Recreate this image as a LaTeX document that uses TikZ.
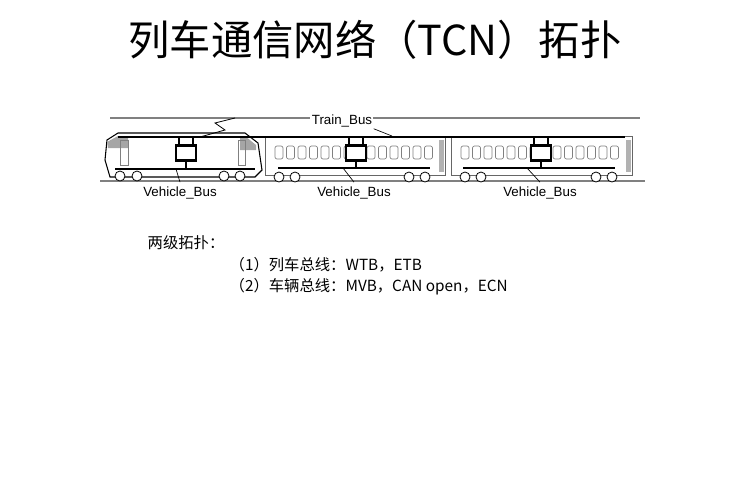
\documentclass[tikz,border=0pt]{standalone}
\usepackage{fontspec}
\setmainfont{Liberation Sans}
\newfontfamily\cjk{Noto Sans CJK SC}
\begin{document}
\begin{tikzpicture}[x=0.75pt,y=-0.75pt,
  ecu/.style={draw,line width=1.8pt,fill=white},
  bus/.style={line width=1.6pt},
  thin/.style={draw=gray,line width=0.5pt},
  win/.style={draw=gray,rounded corners=1.5pt,line width=0.5pt},
  lbl/.style={font=\fontsize{10}{11}\selectfont},
  wheel/.style={draw,line width=0.6pt,fill=white}]
\useasboundingbox (0,0) rectangle (751,500);
\node (title) at (375,40) {\cjk\fontsize{31}{34}\selectfont 列车通信网络（TCN）拓扑};
% overhead line
\draw[line width=1pt,gray] (110,118) -- (310,118);
\draw[line width=1pt,gray] (373,118) -- (640,118);
% pantograph
\draw[line width=0.6pt] (200,137) -- (225,130) -- (215,123) -- (235,118);
% rails
\draw[line width=1.2pt,gray] (100,181) -- (645,181);
% locomotive
\draw[line width=0.8pt] (110,177) -- (105,160) -- (107,140) -- (118,133) -- (245,133) -- (258,143) -- (262,170) -- (255,177) -- cycle;
\fill[gray!70] (107,142) -- (118,136) -- (128,136) -- (128,148) -- (108,148) -- cycle;
\fill[gray!70] (245,136) -- (256,145) -- (256,150) -- (240,150) -- (240,136) -- cycle;
\draw[thin] (120,140) rectangle (128,165);
\draw[thin] (238,140) rectangle (245,165);
\foreach \x in {120,137,224,240} \draw[wheel] (\x,176) circle (5);
% car 1 and car 2
\foreach \a/\b in {265/445,451/632}{
  \draw[line width=0.6pt,gray!80!black] (\a,136) rectangle (\b,175);
  \foreach \i in {0,...,13} \draw[win] ({\a+10+\i*11.5},146) rectangle ++(8,13);
  \draw[wheel] (\a+14,177) circle (5);
  \draw[wheel] (\a+30,177) circle (5);
  \draw[wheel] (\b-36,177) circle (5);
  \draw[wheel] (\b-20,177) circle (5);
  \fill[gray!60] (\b-6,140) rectangle (\b-1,172);
}
% train bus
\draw[bus] (118,137) -- (625,137);
% vehicle buses
\draw[bus] (115,169) -- (255,169);
\draw[bus] (278,168) -- (430,168);
\draw[bus] (463,168) -- (615,168);
% ECUs
\foreach \x/\n in {186/e1,356/e2,541/e3}{
  \draw[line width=1pt] (\x-7,137) -- (\x-7,146);
  \draw[line width=1pt] (\x+7,137) -- (\x+7,146);
  \draw[line width=0.8pt] (\x,161) -- (\x,168);
  \node[ecu,minimum width=15pt,minimum height=11pt,inner sep=0pt] (\n) at (\x,153) {};
}
\node[lbl,fill=white,inner sep=1pt] (tb) at (342,121) {Train\_Bus};
\draw[line width=0.5pt] (tb.south east) -- (392,136);
\node[lbl] (vb1) at (180,193) {Vehicle\_Bus};
\node[lbl] (vb2) at (354,193) {Vehicle\_Bus};
\node[lbl] (vb3) at (540,193) {Vehicle\_Bus};
\draw[line width=0.5pt] (vb1.north) -- (176,169);
\draw[line width=0.5pt] (vb2.north) -- (343,168);
\draw[line width=0.5pt] (vb3.north) -- (527,168);
% text
\node[anchor=west] (t0) at (143,243) {\cjk\fontsize{11.5}{13}\selectfont 两级拓扑：};
\node[anchor=west] (t1) at (225,265) {\cjk\fontsize{11.5}{13}\selectfont （1）列车总线：WTB，ETB};
\node[anchor=west] (t2) at (225,287) {\cjk\fontsize{11.5}{13}\selectfont （2）车辆总线：MVB，CAN open，ECN};
\end{tikzpicture}
\end{document}
